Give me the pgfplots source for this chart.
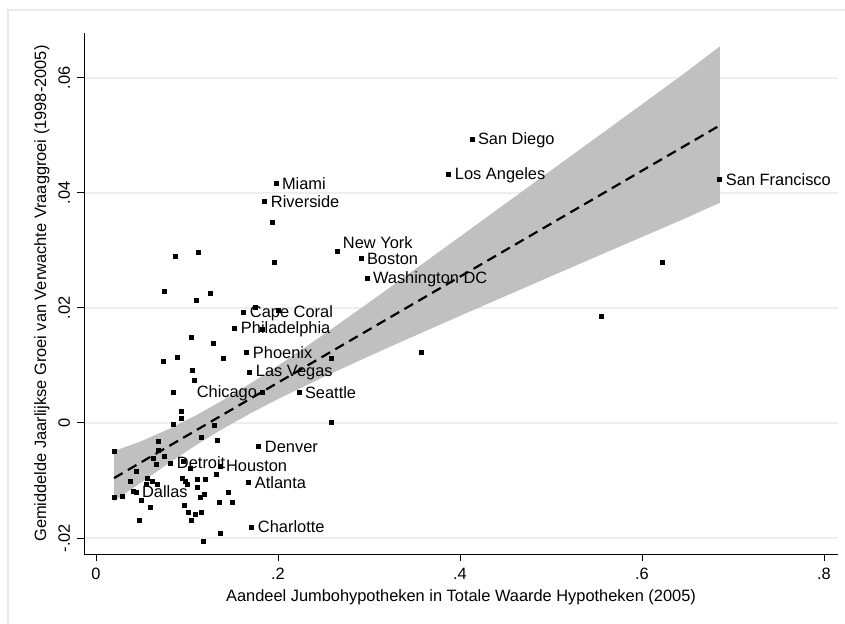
\documentclass[border=0pt]{standalone}
\usepackage{fontspec}
\setmainfont{Liberation Sans}
\usepackage{pgfplots}
\pgfplotsset{compat=1.18}
\usepackage{pgfplotstable}
\definecolor{bandc}{RGB}{192,192,192}
\definecolor{gridc}{RGB}{232,240,242}
\definecolor{framec}{RGB}{228,235,238}
\newcommand{\lf}{\fontsize{8.2}{9.5}\selectfont}

\pgfplotstableread{
x y
0.622 0.02783
0.556 0.01843
0.3582 0.01217
0.2593 0.01113
0.2593 0.00017
0.1934 0.03478
0.1956 0.02783
0.0879 0.02887
0.1121 0.02957
0.0758 0.02278
0.1099 0.02122
0.1253 0.02243
0.1758 0.02000
0.2000 0.01948
0.1835 0.01617
0.1044 0.01478
0.1286 0.01374
0.0890 0.01130
0.0747 0.01061
0.1396 0.01113
0.1055 0.00904
0.1077 0.00730
0.0857 0.00522
0.0934 0.00191
0.0934 0.00070
0.0857 -0.00035
0.1297 -0.00052
0.1154 -0.00261
0.1330 -0.00313
0.0692 -0.00330
0.0198 -0.00504
0.0692 -0.00470
0.0758 -0.00591
0.0637 -0.00626
0.0670 -0.00730
0.0956 -0.00678
0.1033 -0.00800
0.0440 -0.00835
0.0374 -0.01026
0.0571 -0.00957
0.0626 -0.01009
0.0945 -0.00957
0.0978 -0.01009
0.1110 -0.00974
0.1198 -0.00991
0.1319 -0.00904
0.0560 -0.01061
0.0681 -0.01078
0.1000 -0.01061
0.1110 -0.01130
0.0407 -0.01183
0.0198 -0.01304
0.0286 -0.01270
0.0495 -0.01339
0.1143 -0.01287
0.1187 -0.01252
0.1451 -0.01200
0.1352 -0.01391
0.1505 -0.01374
0.0604 -0.01461
0.0967 -0.01426
0.1011 -0.01548
0.1088 -0.01583
0.1154 -0.01548
0.1044 -0.01687
0.0473 -0.01687
0.1363 -0.01913
0.1176 -0.02052
}\others

\pgfplotstableread[col sep=comma]{
x,y,label
0.4132,0.04922,San Diego
0.3879,0.04313,Los Angeles
0.6857,0.04226,San Francisco
0.1978,0.04157,Miami
0.1857,0.03843,Riverside
0.2912,0.02852,Boston
0.2978,0.02504,Washington DC
0.1626,0.01913,Cape Coral
0.1527,0.01635,Philadelphia
0.1659,0.01217,Phoenix
0.1692,0.00870,Las Vegas
0.2231,0.00522,Seattle
0.1791,-0.00417,Denver
0.0824,-0.00696,Detroit
0.1363,-0.00748,Houston
0.1681,-0.01043,Atlanta
0.0440,-0.01200,Dallas
0.1714,-0.01809,Charlotte
}\labR

\pgfplotstableread[col sep=comma]{
x,y,label
0.1835,0.00522,Chicago
}\labL

\pgfplotstableread[col sep=comma]{
x,y,label
0.2659,0.02974,New York
}\labU

\begin{document}
\begin{tikzpicture}
\path[use as bounding box] (-42pt,-34.5pt) rectangle (380.5pt,277pt);
\draw[framec, line width=0.7pt] (-38pt,-40pt) -- (-38pt,272pt) -- (390pt,272pt);
\begin{axis}[
  at={(0,0)}, anchor=south west,
  scale only axis, width=377pt, height=260.5pt,
  xmin=-0.0132, xmax=0.8154, ymin=-0.02278, ymax=0.0678,
  axis x line*=bottom, axis y line*=left,
  axis line style={-, line width=0.5pt, black},
  xtick={0,0.2,0.4,0.6,0.8}, xticklabels={0,.2,.4,.6,.8},
  ytick={-0.02,0,0.02,0.04,0.06}, yticklabels={-.02,0,.02,.04,.06},
  scaled x ticks=false, scaled y ticks=false,
  tick align=outside, major tick length=3.5pt,
  tick style={black, line width=0.5pt},
  ymajorgrids, grid style={gridc, line width=0.7pt},
  ticklabel style={font=\lf},
  yticklabel style={rotate=90, anchor=south},
  xlabel={Aandeel Jumbohypotheken in Totale Waarde Hypotheken (2005)},
  ylabel={Gemiddelde Jaarlijkse Groei van Verwachte Vraaggroei (1998-2005)},
  label style={font=\lf},
  xlabel style={at={(axis description cs:0.5,-0.0825)}, anchor=center},
  ylabel style={at={(axis description cs:-0.0557,0.5)}, anchor=center},
  clip=false,
]
% confidence band
\addplot[fill=bandc, draw=none] coordinates {
(0.0198,-0.00490) (0.05,-0.00315) (0.08,-0.00105) (0.11,0.00135) (0.14,0.00400)
(0.17,0.00690) (0.20,0.00995) (0.25,0.01535) (0.30,0.02095) (0.35,0.02665)
(0.40,0.03240) (0.45,0.03815) (0.50,0.04390) (0.55,0.04965) (0.60,0.05540)
(0.65,0.06119) (0.6857,0.06550)
(0.6857,0.03830) (0.65,0.03575) (0.60,0.03234) (0.55,0.02893) (0.50,0.02551)
(0.45,0.02207) (0.40,0.01862) (0.35,0.01514) (0.30,0.01161) (0.25,0.00799)
(0.20,0.00416) (0.17,0.00170) (0.14,-0.00096) (0.11,-0.00383) (0.08,-0.00700)
(0.05,-0.01030) (0.0198,-0.01360)
} -- cycle;
% fitted line
\addplot[black, line width=1.1pt, dash pattern=on 5pt off 3pt] coordinates {(0.0198,-0.00958) (0.6857,0.05175)};
% points
\addplot[only marks, mark=square*, mark size=1pt, mark options={black, line width=0pt}] table[x=x,y=y] {\others};
\addplot[only marks, mark=square*, mark size=1pt, mark options={black, line width=0pt},
  nodes near coords, point meta=explicit symbolic,
  every node near coord/.append style={anchor=west, font=\lf, inner sep=0.5pt, xshift=2.5pt, text=black}]
  table[x=x,y=y,meta=label] {\labR};
\addplot[only marks, mark=square*, mark size=1pt, mark options={black, line width=0pt},
  nodes near coords, point meta=explicit symbolic,
  every node near coord/.append style={anchor=east, font=\lf, inner sep=0.5pt, xshift=-2.5pt, text=black}]
  table[x=x,y=y,meta=label] {\labL};
\addplot[only marks, mark=square*, mark size=1pt, mark options={black, line width=0pt},
  nodes near coords, point meta=explicit symbolic,
  every node near coord/.append style={anchor=west, font=\lf, inner sep=0.5pt, xshift=2pt, yshift=4.5pt, text=black}]
  table[x=x,y=y,meta=label] {\labU};
\end{axis}
\end{tikzpicture}
\end{document}
